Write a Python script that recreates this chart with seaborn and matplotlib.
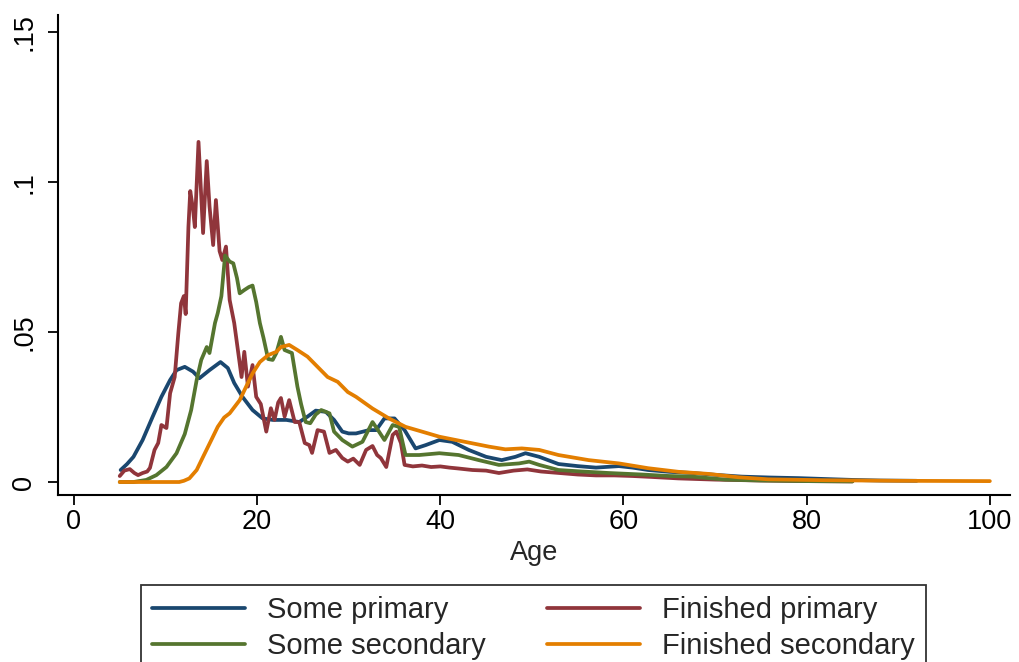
import matplotlib
matplotlib.use("Agg")
import matplotlib.pyplot as plt
import seaborn as sns
import pandas as pd
from matplotlib.lines import Line2D

# ---- data ----
series_names = ["Some primary", "Finished primary", "Some secondary", "Finished secondary"]

age_some_primary = [5.1, 5.8, 6.5, 7.5, 8.6, 9.55, 10.5, 11.2, 12.1, 13.0, 13.7, 14.8, 16.0, 16.8, 17.5,
                    18.4, 19.5, 20.6, 21.7, 23.2, 24.6, 25.5, 26.4, 27.5, 28.4, 29.3, 30.0, 30.8, 32.2,
                    33.0, 33.9, 35.0, 36.1, 37.3, 38.4, 39.9, 41.3, 43.1, 45.0, 46.7, 48.2, 49.3, 50.8,
                    52.9, 55.0, 57.0, 59.5, 61, 62.7, 65, 67.5, 70, 72.9, 76, 79.1, 82, 85, 88, 92]
dens_some_primary = [.0040, .0060, .0084, .0140, .0218, .0284, .0340, .0373, .0384, .0368, .0346, .0373,
                     .0400, .0380, .0330, .0284, .0240, .0212, .0207, .0207, .0200, .0218, .0238, .0234,
                     .0207, .0168, .0162, .0162, .0173, .0173, .0212, .0212, .0173, .0112, .0123, .0140,
                     .0134, .0107, .0084, .0073, .0084, .0096, .0084, .0060, .0053, .0048, .0053, .0048,
                     .0040, .0034, .0030, .0024, .0018, .0015, .0013, .0010, .0007, .0005, .0004]

age_finished_primary = [5.0, 5.5, 6.1, 6.6, 7.0, 7.5, 8.0, 8.3, 8.8, 9.2, 9.55, 10.1, 10.5, 11.0, 11.4,
                        11.7, 12.0, 12.2, 12.5, 12.7, 13.0, 13.2, 13.6, 14.1, 14.5, 14.8, 15.2, 15.5,
                        15.9, 16.2, 16.6, 17.0, 17.5, 17.9, 18.3, 18.6, 19.0, 19.5, 19.9, 20.4, 21.0,
                        21.5, 21.9, 22.3, 22.6, 23.0, 23.5, 24.1, 24.6, 25.2, 25.7, 26.0, 26.6, 27.3,
                        27.9, 28.6, 29.3, 29.9, 30.5, 31.2, 31.9, 32.6, 33.1, 33.5, 34.1, 34.8, 35.2,
                        35.7, 36.1, 37, 38, 39, 40, 41, 42, 43.5, 45, 46.4, 48, 49.5, 51, 53, 55, 57,
                        59, 61, 63, 66, 70, 75, 80, 85]
dens_finished_primary = [.0020, .0038, .0043, .0030, .0023, .0030, .0035, .0047, .0107, .0130, .0190,
                         .0180, .0296, .0350, .0497, .0596, .0620, .0560, .0850, .0970, .0910, .0850,
                         .1134, .0830, .1070, .0920, .0790, .0940, .0770, .0740, .0785, .0607, .0530,
                         .0440, .0350, .0434, .0318, .0390, .0284, .0260, .0168, .0246, .0207, .0265,
                         .0280, .0218, .0273, .0200, .0200, .0130, .0123, .0097, .0173, .0168, .0097,
                         .0107, .0080, .0068, .0078, .0057, .0107, .0120, .0090, .0080, .0050, .0157,
                         .0168, .0130, .0057, .0052, .0055, .0050, .0052, .0048, .0045, .0040, .0038,
                         .0030, .0038, .0042, .0035, .0030, .0025, .0022, .0022, .0020, .0017, .0012,
                         .0008, .0005, .0003, .0002]

age_some_secondary = [5.0, 6.5, 7.9, 9.0, 10.1, 11.2, 12.1, 12.8, 13.4, 13.9, 14.5, 14.8, 15.4, 15.7,
                      16.1, 16.5, 17.0, 17.4, 17.8, 18.1, 18.6, 19.1, 19.5, 19.9, 20.3, 20.7, 21.2,
                      21.7, 22.1, 22.6, 23.0, 23.8, 24.4, 24.8, 25.3, 25.8, 26.4, 27.0, 27.9, 28.4,
                      29.3, 30.4, 31.5, 32.6, 33.2, 33.9, 34.8, 35.5, 36.2, 37.7, 39.9, 42.0, 44.2,
                      46.4, 48.6, 49.7, 50.8, 52.9, 55.5, 58.4, 62.0, 65, 67.5, 71.1, 75, 80, 85]
dens_some_secondary = [.0000, .0000, .0007, .0023, .0050, .0096, .0160, .0240, .0340, .0407, .0450,
                       .0430, .0530, .0563, .0620, .0755, .0735, .0729, .0680, .0629, .0640, .0650,
                       .0655, .0600, .0530, .0480, .0410, .0407, .0430, .0484, .0440, .0430, .0318,
                       .0260, .0200, .0196, .0225, .0240, .0229, .0168, .0140, .0118, .0134, .0200,
                       .0173, .0140, .0190, .0184, .0090, .0090, .0096, .0090, .0073, .0057, .0062,
                       .0068, .0057, .0040, .0035, .0030, .0025, .0020, .0018, .0008, .0005, .0003,
                       .0002]

age_finished_secondary = [5.0, 8.0, 11.5, 12.0, 12.6, 13.4, 14.1, 15.0, 15.7, 16.4, 17.0, 18.1, 18.8,
                          19.5, 20.3, 21.2, 22.1, 22.6, 23.5, 24.4, 25.5, 26.6, 27.7, 28.8, 29.9, 30.8,
                          32.6, 34.4, 36.2, 38.0, 39.9, 41.7, 43.5, 45.3, 47.1, 48.9, 50.8, 52.9, 56.2,
                          59.5, 62.7, 66.0, 69.3, 72.5, 75.8, 82, 90, 100]
dens_finished_secondary = [.0000, .0000, .0000, .0004, .0012, .0040, .0084, .0140, .0184, .0215, .0229,
                           .0273, .0318, .0362, .0400, .0423, .0434, .0450, .0457, .0440, .0418, .0384,
                           .0350, .0334, .0300, .0284, .0245, .0212, .0184, .0168, .0151, .0140, .0129,
                           .0118, .0109, .0112, .0107, .0090, .0073, .0062, .0046, .0034, .0027, .0016,
                           .0009, .0006, .0004, .0003]

x_ticks = [0, 20, 40, 60, 80, 100]
y_ticks = [0, 0.05, 0.10, 0.15]
y_tick_labels = ["0", ".05", ".1", ".15"]
x_label = "Age"

colors = {"Some primary": "#1a476f", "Finished primary": "#90353b",
          "Some secondary": "#55752f", "Finished secondary": "#e37e00"}

# ---- build long frame ----
frames = []
for name, a, d in [("Some primary", age_some_primary, dens_some_primary),
                   ("Finished primary", age_finished_primary, dens_finished_primary),
                   ("Some secondary", age_some_secondary, dens_some_secondary),
                   ("Finished secondary", age_finished_secondary, dens_finished_secondary)]:
    frames.append(pd.DataFrame({"age": a, "density": d, "group": name}))
df = pd.concat(frames, ignore_index=True)

sns.set_theme(style="white")
plt.rcParams["font.family"] = ["Liberation Sans", "DejaVu Sans"]

fig = plt.figure(figsize=(10.19, 6.62), dpi=100)
ax = fig.add_axes([58 / 1019, 1 - 495 / 662, (1010 - 58) / 1019, (495 - 15) / 662])

sns.lineplot(data=df, x="age", y="density", hue="group", hue_order=series_names,
             palette=colors, linewidth=2.7, sort=True, estimator=None, legend=False, ax=ax)

ax.set_xlim(-1.74, 102.2)
ax.set_ylim(-0.00433, 0.1557)
ax.set_xticks(x_ticks)
ax.set_xticklabels([str(t) for t in x_ticks], fontsize=19.5)
ax.set_yticks(y_ticks)
ax.set_yticklabels(y_tick_labels, fontsize=19.5, rotation=90, va="center")
ax.set_xlabel(x_label, fontsize=19.5, labelpad=4)
ax.set_ylabel("")

for s in ["top", "right"]:
    ax.spines[s].set_visible(False)
for s in ["left", "bottom"]:
    ax.spines[s].set_color("black")
    ax.spines[s].set_linewidth(1.5)
ax.tick_params(axis="both", which="major", direction="out", length=7, width=1.3,
               color="black", labelcolor="black", bottom=True, left=True)
ax.tick_params(axis="x", pad=3)
ax.tick_params(axis="y", pad=8)

# legend: row 1 = Some primary / Finished primary, row 2 = Some secondary / Finished secondary
legend_order = ["Some primary", "Some secondary", "Finished primary", "Finished secondary"]
handles = [Line2D([0], [0], color=colors[n], linewidth=2.7) for n in legend_order]
leg = fig.legend(handles, legend_order, ncol=2, loc="upper left",
                 bbox_to_anchor=(141 / 1019, 1 - 585 / 662), fontsize=21,
                 frameon=True, fancybox=False, handlelength=3.2, handletextpad=0.75,
                 columnspacing=2.1, borderpad=0.37, labelspacing=0.28, borderaxespad=0)
leg.get_frame().set_edgecolor("black")
leg.get_frame().set_linewidth(1.3)

fig.savefig("out.png", dpi=100, facecolor="white")
